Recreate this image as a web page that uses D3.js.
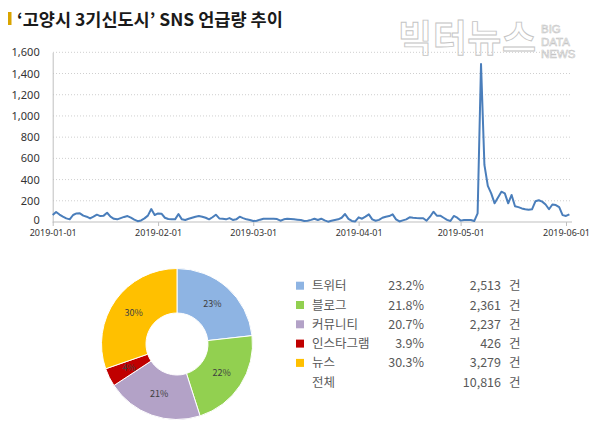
<!DOCTYPE html>
<html><head><meta charset="utf-8">
<script src="https://cdn.jsdelivr.net/npm/d3@7"></script>
<style>
html,body{margin:0;padding:0;background:#fff;}
svg{display:block;font-family:"Noto Sans CJK KR","Noto Sans",sans-serif;}
</style></head>
<body>
<svg id="chart" width="600" height="430"></svg>
<script>
// ---- data ----
const startDate = "2019-01-01";
const dailyMentions = [
 66,95,70,50,34,25,66,81,82,60,50,34,50,69,56,60,87,50,30,25,37,48,56,41,22,8,15,34,60,122,66,
 81,78,40,28,25,25,75,25,19,30,40,50,56,50,40,25,45,69,34,31,25,37,19,25,50,37,25,19,
 9,12,22,31,31,31,31,28,12,25,31,28,25,22,19,9,12,20,31,19,31,15,3,12,19,25,40,75,30,10,5,
 44,31,50,72,25,12,20,40,50,56,72,25,5,15,25,44,40,37,35,36,12,50,97,60,60,40,20,9,57,41,
 13,19,19,19,9,82,1490,538,340,270,176,230,286,270,176,255,148,140,128,120,115,120,195,205,192,165,120,165,160,140,65,
 57,72
];
const yTicks = [0,200,400,600,800,1000,1200,1400,1600];
const xTickLabels = ["2019-01-01","2019-02-01","2019-03-01","2019-04-01","2019-05-01","2019-06-01"];
const channels = ["트위터","블로그","커뮤니티","인스타그램","뉴스"];
const shares = [23.2,21.8,20.7,3.9,30.3];
const counts = [2513,2361,2237,426,3279];
const totalLabel = "전체";
const totalCount = 10816;
const sliceColors = ["#8EB4E3","#92D050","#B3A2C7","#C00000","#FFC000"];
const titleText = "‘고양시 3기신도시’ SNS 언급량 추이";

const svg = d3.select("#chart");
const parse = d3.utcParse("%Y-%m-%d");
const fmt = d3.format(",");
const t0 = parse(startDate);
const series = dailyMentions.map((v,i)=>({date:d3.utcDay.offset(t0,i), v}));

// ---- watermark ----
const wm = svg.append("g").attr("fill","#fff").attr("stroke","#c4c4c4").attr("stroke-width",0.9);
wm.append("text").attr("x",398).attr("y",52).attr("font-size",37).attr("font-weight",700)
  .attr("textLength",138).attr("font-family","'Noto Sans CJK KR'").text("빅터뉴스");
["BIG","DATA","NEWS"].forEach((s,i)=>wm.append("text").attr("x",541).attr("y",33+i*12.5)
  .attr("font-size",11.5).attr("font-family","'Liberation Sans',Arial").attr("stroke-width",0.6).text(s));

// ---- title ----
svg.append("rect").attr("x",8).attr("y",12).attr("width",3.5).attr("height",13).attr("fill","#D9A400");
svg.append("text").attr("x",17).attr("y",25.5).attr("font-size",17.5).attr("font-weight",700)
  .attr("fill","#1a1a1a").text(titleText);

// ---- line chart ----
const x = d3.scaleUtc().domain([parse("2019-01-01"),parse("2019-06-01")]).range([52.7,566]);
const y = d3.scaleLinear().domain([0,1600]).range([222,52.3]);
const xRight = 572;

const grid = svg.append("g");
grid.selectAll("line").data(yTicks.filter(d=>d>0)).join("line")
  .attr("x1",53).attr("x2",xRight).attr("y1",d=>y(d)).attr("y2",d=>y(d))
  .attr("stroke","#cfcfcf").attr("stroke-dasharray","1,2");

const yAxis = svg.append("g").attr("transform","translate(52.7,0)")
  .call(d3.axisLeft(y).tickValues(yTicks).tickFormat(fmt).tickSize(0).tickPadding(13));
yAxis.select(".domain").attr("stroke","#bfbfbf");
yAxis.selectAll("text").attr("font-size",11).attr("fill","#333").attr("font-family","'Noto Sans',sans-serif");
yAxis.selectAll(".tick").filter(d=>d===0).select("text").attr("dy","0.1em");

const xAxis = svg.append("g").attr("transform","translate(0,222)")
  .call(d3.axisBottom(x).tickValues(xTickLabels.map(parse)).tickFormat(d3.utcFormat("%Y-%m-%d")).tickSize(4).tickPadding(4));
xAxis.select(".domain").attr("d",`M52.7,0H${xRight}`).attr("stroke","#bfbfbf");
xAxis.selectAll(".tick line").attr("stroke","#bfbfbf");
xAxis.selectAll("text").attr("font-size",9).attr("fill","#333").attr("font-family","'Noto Sans',sans-serif");

svg.append("path").datum(series)
  .attr("d",d3.line().x(d=>x(d.date)).y(d=>y(d.v)))
  .attr("fill","none").attr("stroke","#4A7EBB").attr("stroke-width",2).attr("stroke-linejoin","round");

// ---- donut ----
const cx = 177, cy = 344, rOut = 75.5, rIn = 31;
const pie = d3.pie().sort(null).value(d=>d.c);
const pdata = pie(channels.map((n,i)=>({n,c:counts[i],p:shares[i],col:sliceColors[i]})));
const arc = d3.arc().innerRadius(rIn).outerRadius(rOut);
const labArc = d3.arc().innerRadius((rIn+rOut)/2).outerRadius((rIn+rOut)/2);
const dg = svg.append("g").attr("transform",`translate(${cx},${cy})`);
dg.selectAll("path").data(pdata).join("path").attr("d",arc)
  .attr("fill",d=>d.data.col).attr("stroke","#fff").attr("stroke-width",1);
dg.selectAll("text").data(pdata).join("text")
  .attr("transform",d=>`translate(${labArc.centroid(d)})`)
  .attr("text-anchor","middle").attr("dy","0.35em").attr("font-size",9).attr("fill","#404040")
  .text(d=>Math.round(d.data.p)+"%");

// ---- legend ----
const lg = svg.append("g").attr("font-size",12.5).attr("fill","#595959");
const rowY = i => 285.7 + i*19.3;
channels.forEach((n,i)=>{
  lg.append("rect").attr("x",296).attr("y",rowY(i)-4).attr("width",8).attr("height",8).attr("fill",sliceColors[i]);
  lg.append("text").attr("x",312).attr("y",rowY(i)).attr("dy","0.36em").text(n);
  lg.append("text").attr("x",424).attr("y",rowY(i)).attr("dy","0.36em").attr("text-anchor","end").text(shares[i].toFixed(1)+"%");
  lg.append("text").attr("x",501).attr("y",rowY(i)).attr("dy","0.36em").attr("text-anchor","end").text(fmt(counts[i]));
  lg.append("text").attr("x",509).attr("y",rowY(i)).attr("dy","0.36em").text("건");
});
lg.append("text").attr("x",312).attr("y",rowY(5)).attr("dy","0.36em").text(totalLabel);
lg.append("text").attr("x",501).attr("y",rowY(5)).attr("dy","0.36em").attr("text-anchor","end").text(fmt(totalCount));
lg.append("text").attr("x",509).attr("y",rowY(5)).attr("dy","0.36em").text("건");
</script>
</body></html>
